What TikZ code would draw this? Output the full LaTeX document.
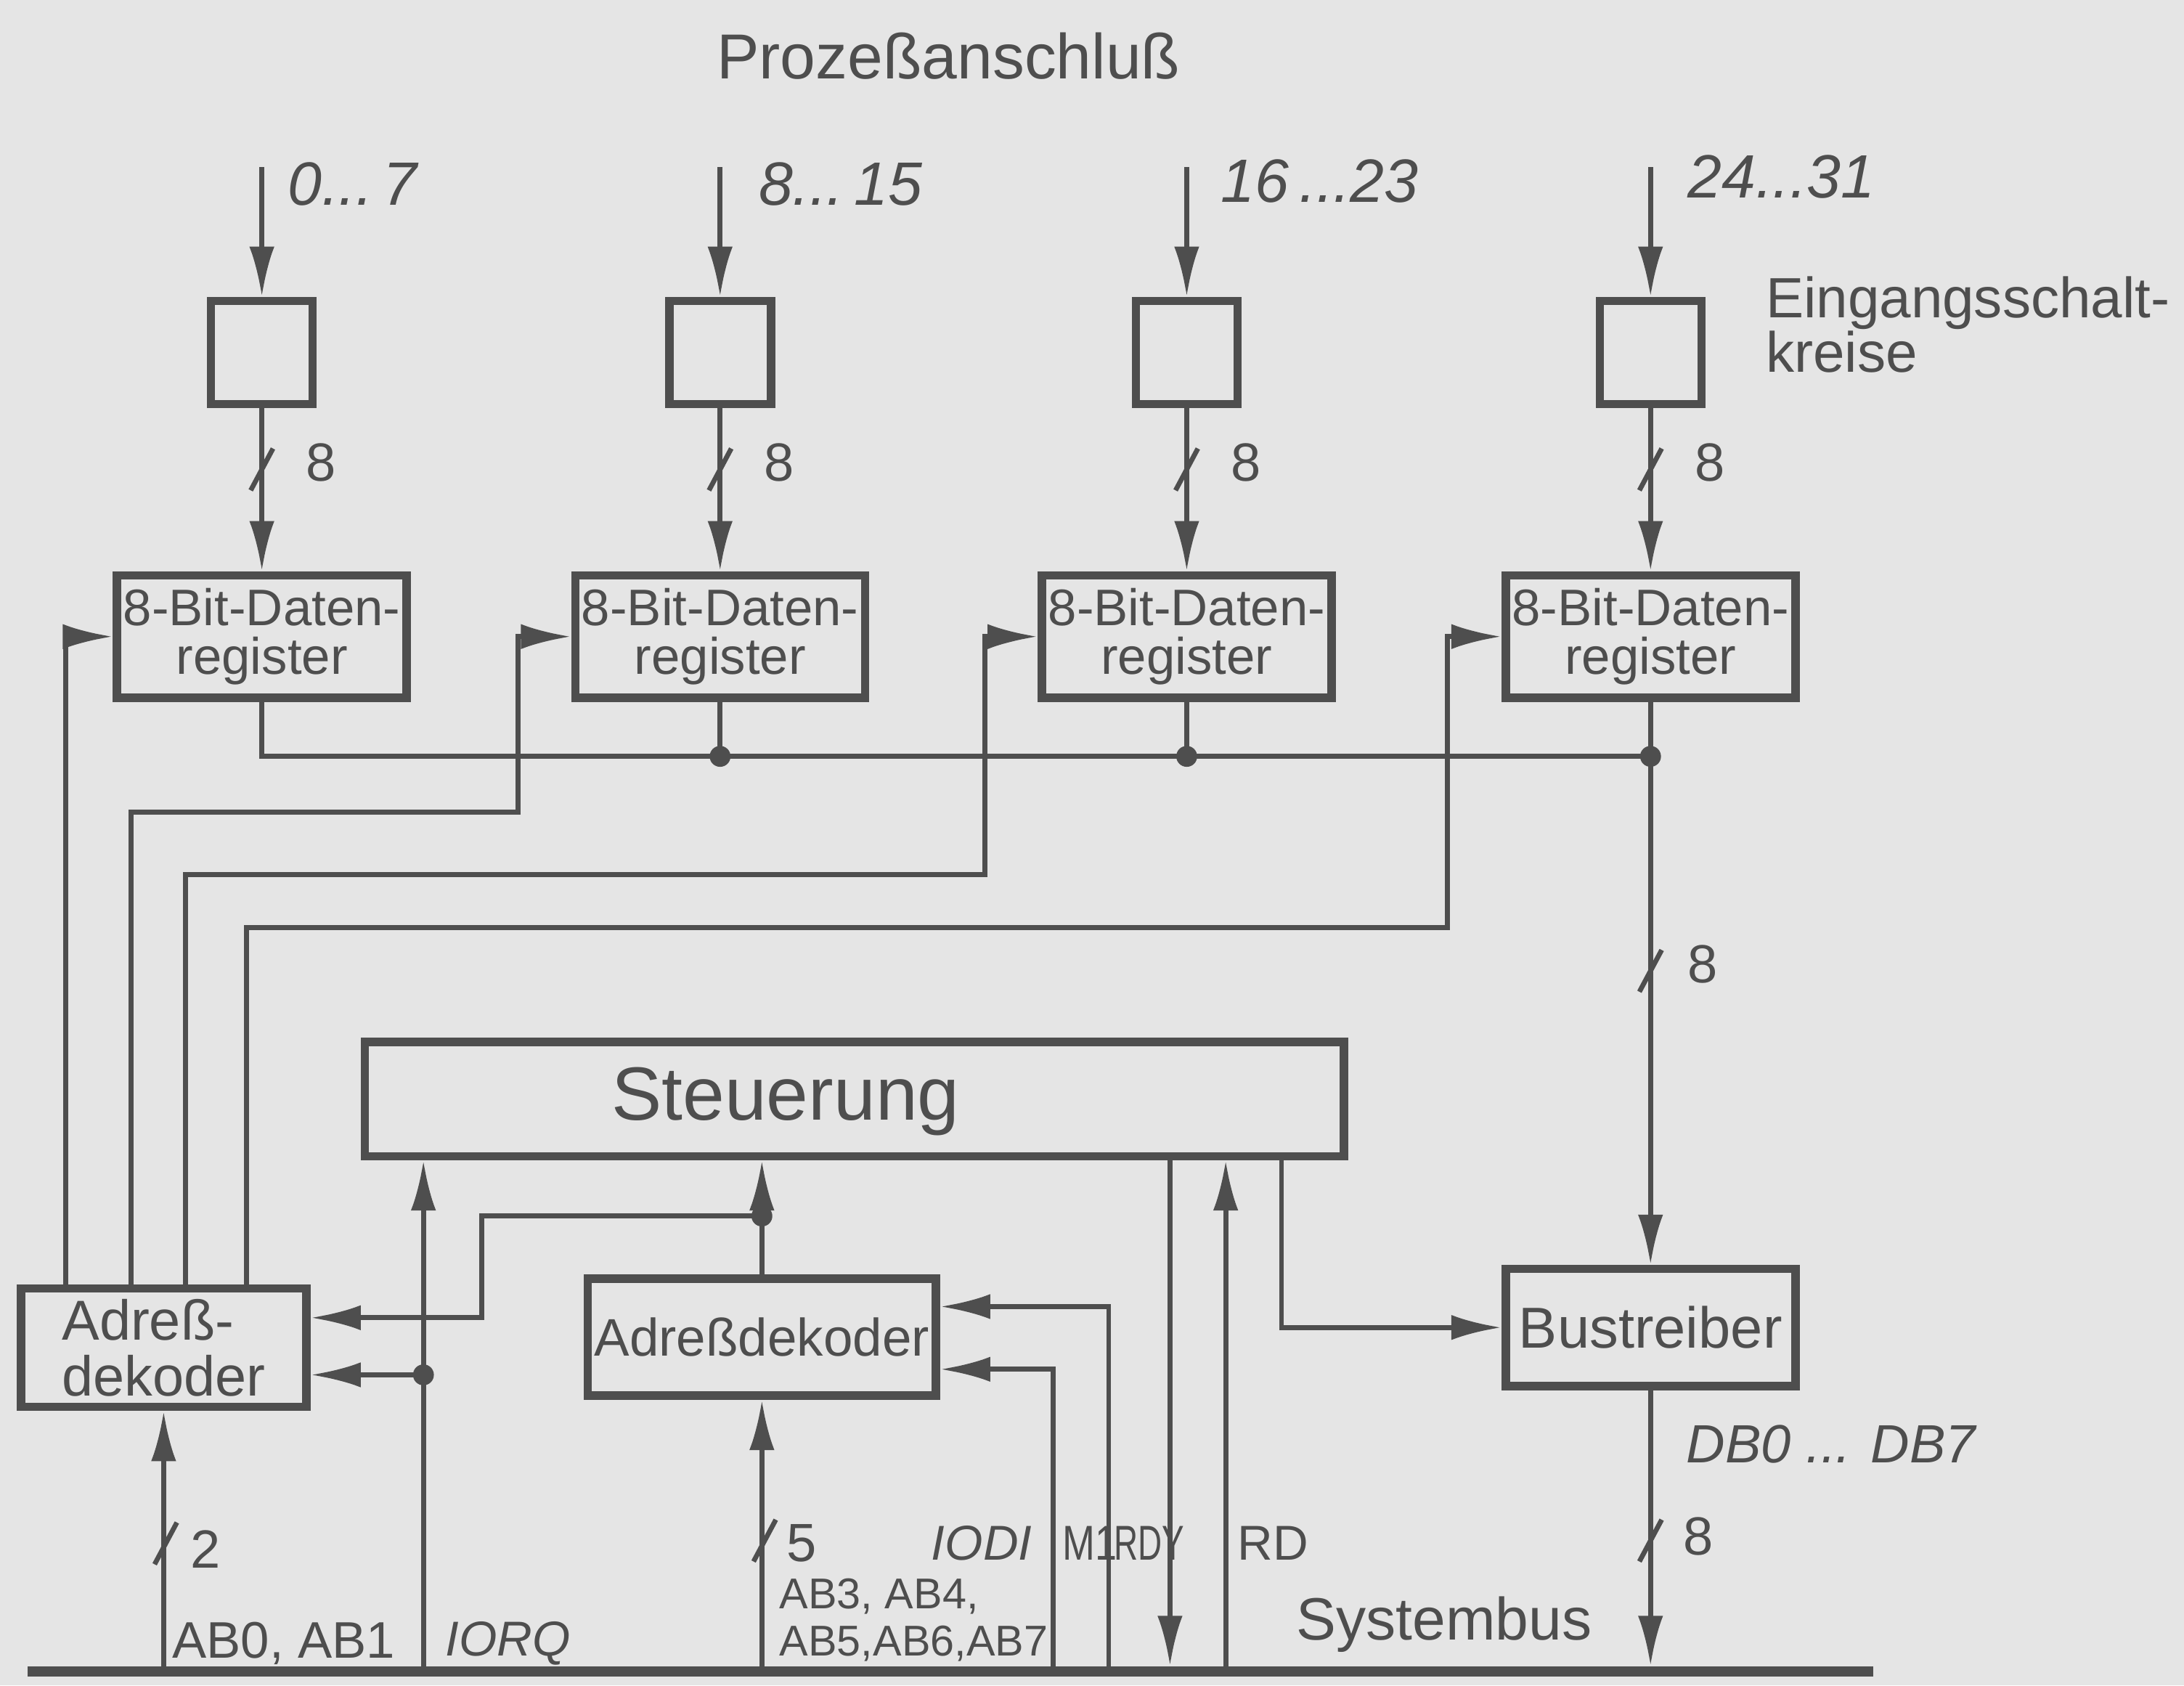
\documentclass[tikz,border=0pt]{standalone}
\usepackage{fontspec}
\setmainfont{Liberation Sans}
\usepackage{graphicx}
\usetikzlibrary{arrows.meta,calc}
\definecolor{ink}{RGB}{78,78,78}
\definecolor{paper}{RGB}{229,229,229}
\tikzset{
  blk/.style={draw=ink, line width=0.6mm, inner sep=0pt, align=center},
  arr/.style={-{Latex[length=3.6mm,width=1.8mm]}},
  jdot/.style={circle, fill=ink, inner sep=0pt, minimum size=1.5mm},
  lbl/.style={inner sep=0pt, anchor=west},
  fnum/.style={font=\fontsize{11}{13}\selectfont},
  frange/.style={font=\fontsize{12.5}{14}\selectfont\itshape},
  freg/.style={font=\fontsize{10.5}{10}\selectfont},
  fmid/.style={font=\fontsize{11.5}{11.5}\selectfont},
  fsig/.style={font=\fontsize{10}{12}\selectfont},
  fsigi/.style={font=\fontsize{10}{12}\selectfont\itshape},
}
\newcommand\busslash[2]{\draw ({#1-8},{#2+15}) -- ({#1+8},{#2-15});}
\begin{document}
\begin{tikzpicture}[x=0.1mm,y=-0.1mm,color=ink,line width=0.35mm]
\fill[paper] (0,0) rectangle (1568,1210);
\useasboundingbox (0,0) rectangle (1568,1210);

% title
\node[font=\fontsize{13}{15}\selectfont] (title) at (681,40) {Prozeßanschluß};

% four input channels
\foreach \i/\x in {1/188,2/517,3/852,4/1185}{
  \node[blk, minimum width=7.3mm, minimum height=7.4mm] (ib\i) at (\x,253) {};
  \node[blk, freg, minimum width=20.8mm, minimum height=8.8mm] (r\i) at (\x,457) {8-Bit-Daten-\\register};
  \coordinate (in\i) at (\x,120);
  \draw[arr] (in\i) -- (ib\i.north);
  \draw[arr] (ib\i.south) -- (r\i.north);
  \busslash{\x}{337}
  \node[lbl, fnum] (n\i) at ({\x+30},332) {8};
}
\node[lbl, frange] (rg1) at (205,132) {0...\,7};
\node[lbl, frange] (rg2) at (543,132) {8...\,15};
\node[lbl, frange] (rg3) at (875,130) {16\,...23};
\node[lbl, frange] (rg4) at (1210,127) {24...31};
\node[lbl, align=left, font=\fontsize{11.6}{11.2}\selectfont] (eing) at (1266,233) {Eingangsschalt-\\kreise};

% blocks lower part
\node[blk, minimum width=70.3mm, minimum height=8.2mm] (st) at (613.5,789) {};
\node[font=\fontsize{15.4}{17}\selectfont] (stt) at (564,791) {Steuerung};
\node[blk, fmid, align=left, minimum width=20.5mm, minimum height=8.5mm] (ad1) at (117.5,967.5) {Adreß-\\dekoder};
\node[blk, font=\fontsize{10.8}{12}\selectfont, minimum width=25mm, minimum height=8.4mm] (ad2) at (547,960) {Adreßdekoder};
\node[blk, font=\fontsize{11.8}{13}\selectfont, minimum width=20.8mm, minimum height=8.4mm] (bt) at (1185,953) {Bustreiber};

% data collection line
\node[jdot] (j2) at (517,543) {};
\node[jdot] (j3) at (852,543) {};
\node[jdot] (j4) at (1185,543) {};
\draw (r1.south) |- (j4.center);
\draw (r2.south) -- (j2.center);
\draw (r3.south) -- (j3.center);
\draw[arr] (r4.south) -- (bt.north);
\busslash{1185}{697}
\node[lbl, fnum] (n5) at (1210,692) {8};

% enable lines from left address decoder
\coordinate (e1) at (47,457);
\draw[arr] (e1 |- ad1.north) -- (e1) -- (r1.west);
\coordinate (e2a) at (94,583); \coordinate (e2b) at (372,583);
\draw[arr] (e2a |- ad1.north) -- (e2a) -- (e2b) |- (r2.west);
\coordinate (e3a) at (133,628); \coordinate (e3b) at (707,628);
\draw[arr] (e3a |- ad1.north) -- (e3a) -- (e3b) |- (r3.west);
\coordinate (e4a) at (177,666); \coordinate (e4b) at (1039,666);
\draw[arr] (e4a |- ad1.north) -- (e4a) -- (e4b) |- (r4.west);

% system bus
\coordinate (busL) at (20,1200);
\coordinate (busR) at (1345,1200);
\draw[line width=0.75mm] (busL) -- (busR);

% address lines to left decoder
\coordinate (bA1) at (117.5,1200);
\draw[arr] (bA1) -- (ad1.south);
\busslash{119}{1108}
\node[lbl, fnum] (n2) at (135,1112) {2};

% IORQ
\node[jdot] (jI) at (304,987) {};
\coordinate (bIO) at (304,1200);
\draw[arr] (bIO) -- (bIO |- st.south);
\draw[arr] (jI.center) -- (jI -| ad1.east);

% middle decoder output
\node[jdot] (jA) at (547,873) {};
\draw (ad2.north) -- (jA.center);
\draw[arr] (jA.center) -- (jA |- st.south);
\coordinate (kA) at (346,873); \coordinate (kB) at (346,946);
\draw[arr] (jA.center) -- (kA) -- (kB) -- (kB -| ad1.east);

% address lines to middle decoder
\coordinate (bA2) at (547,1200);
\draw[arr] (bA2) -- (ad2.south);
\busslash{549}{1106}
\node[lbl, fnum] (n3) at (563,1108) {5};

% IODI and M1
\coordinate (bIODI) at (756,1200); \coordinate (cIODI) at (756,983);
\draw[arr] (bIODI) -- (cIODI) -- (cIODI -| ad2.east);
\coordinate (bM1) at (796,1200); \coordinate (cM1) at (796,938);
\draw[arr] (bM1) -- (cM1) -- (cM1 -| ad2.east);

% RDY, RD, bus driver control
\coordinate (bRDY) at (840,1196);
\draw[arr] (bRDY |- st.south) -- (bRDY);
\coordinate (bRD) at (880,1200);
\draw[arr] (bRD) -- (bRD |- st.south);
\coordinate (cBT) at (920,953);
\draw[arr] (cBT |- st.south) -- (cBT) -- (bt.west);

% bus driver to bus
\coordinate (bDB) at (1185,1196);
\draw[arr] (bt.south) -- (bDB);
\busslash{1185}{1106}
\node[lbl, fnum] (n6) at (1207,1103) {8};

% signal labels
\node[lbl, font=\fontsize{10.5}{12}\selectfont] (lAB01) at (122,1180) {AB0, AB1};
\node[lbl, fsigi] (lIORQ) at (318,1180) {IORQ};
\node[lbl, align=left, font=\fontsize{8.8}{9.6}\selectfont] (lAB37) at (558,1163) {AB3, AB4,\\AB5,AB6,AB7};
\node[lbl, fsigi] (lIODI) at (667,1108) {IODI};
\node[lbl, fsig] (lM1) at (761,1108) {\scalebox{0.8}[1]{M1}};
\node[lbl, fsig] (lRDY) at (798,1108) {\scalebox{0.68}[1]{RDY}};
\node[lbl, fsig] (lRD) at (887,1108) {RD};
\node[lbl, font=\fontsize{12.2}{14}\selectfont] (lSys) at (929,1166) {Systembus};
\node[lbl, font=\fontsize{11}{13}\selectfont\itshape] (lDB) at (1209,1037) {DB0 ... DB7};
\end{tikzpicture}
\end{document}
